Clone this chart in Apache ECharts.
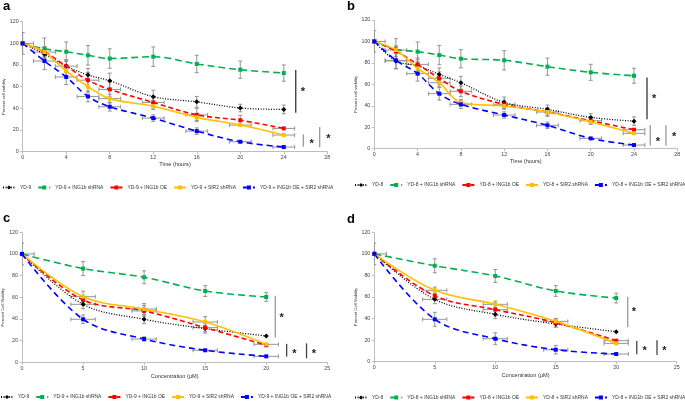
<!DOCTYPE html>
<html><head><meta charset="utf-8">
<script src="https://cdn.jsdelivr.net/npm/echarts@6/dist/echarts.min.js"></script>
<style>html,body{margin:0;padding:0;background:#fff}#c{width:685px;height:401px}</style>
</head><body><div id="c"></div>
<script>
// ---------- categories / tick labels ----------
const timeHours = [0, 2, 4, 6, 8, 12, 16, 20, 24];
const concUM = [0, 5, 10, 15, 20];
const namesYD9 = ['YD-9', 'YD-9 + ING1b shRNA', 'YD-9 + ING1b OE', 'YD-9 + SIR2 shRNA', 'YD-9 + ING1b OE + SIR2 shRNA'];
const namesYD8 = ['YD-8', 'YD-8 + ING1b shRNA', 'YD-8 + ING1b OE', 'YD-8 + SIR2 shRNA', 'YD-8 + ING1b OE + SIR2 shRNA'];
const panelLabels = ['a', 'b', 'c', 'd'];

// ---------- panel a : YD-9 over time ----------
const aCtrl  = [100, 90, 79, 70.8, 65.5, 50.8, 46, 40.3, 39];
const aShING = [100, 95, 92.3, 89, 86, 87.7, 81, 75.7, 72.6];
const aOE    = [100, 92, 79, 66, 57.5, 45.5, 34, 29, 21.5];
const aShSIR = [100, 92, 74.5, 60, 49, 42, 31.7, 24.6, 15.4];
const aCombo = [100, 83.7, 69, 51, 41.5, 31, 19, 9.2, 4.3];
const aYErr = [[10,4,5,6,7,6,5,3.5,4],[0,10,9,9,9,9,8,8,7.5],[0,5,6,7,7,5,6,4.5,0],[0,4,5,5,4,3,3,0,0],[0,8,7,5,4,3,3,0,0]];
const aXErr = [[0,0,0,0,0,0,0,0,0],[0,0,0,0,0,0,0,0,0],[0,0,1,1,1,1,1,0,1],[0,1,0,0,1,0,0,1,1],[1,1,1,1,1,1,1,1,1]];
const aSig = [[25.1, 75.4, 36, 25.75, 57], [25.8, 16, 4.6, 26.55, 9.2], [27.3, 22.8, 4, 28.1, 13.8]];

// ---------- panel b : YD-8 over time ----------
const bCtrl  = [100, 81.8, 77.4, 69.3, 61.5, 43.2, 36.7, 29.2, 25.7];
const bShING = [100, 92.6, 90.5, 87.3, 83.9, 82.4, 76.5, 71.2, 68];
const bOE    = [100, 91, 78.6, 65.6, 53.5, 41.3, 34.2, 26.1, 17.7];
const bShSIR = [100, 92, 75, 61.5, 43, 39.8, 34.2, 24.9, 14.3];
const bCombo = [100, 82.4, 70, 51.3, 41.3, 31.4, 21.8, 9.6, 3.4];
const bYErr = [[10,7,6,6,6,5,4,3.5,4],[0,10,9,9,8.5,9,8,7.5,7],[0,5,6,6,5,4,4,3.5,0],[0,3,4,4,3,3,3,0,0],[0,8,7,6,4,3,3,0,0]];
const bXErr = [[0,1,0,0,0,0,0,0,0],[0,0,0,0,0,0,0,0,0],[0,0,1,1,1,1,1,1,1],[0,1,0,1,0,0,0,0,1],[1,1,1,1,1,1,1,1,1]];
const bSig = [[25.2, 66.5, 27.4, 25.85, 48.5], [25.5, 22, 3, 26.2, 8], [26.95, 21.8, 2.8, 27.7, 12.7]];

// ---------- panel c : YD-9 over concentration ----------
const cCtrl  = [100, 53.5, 39.7, 31.1, 24.3];
const cShING = [100, 86.5, 78.5, 65.8, 60.3];
const cOE    = [100, 57.5, 47.4, 32, 15.7];
const cShSIR = [100, 60.6, 49.2, 37.2, 16.6];
const cCombo = [100, 39.7, 21.5, 11.1, 5.5];
const cYErr = [[10,4,4,3,0],[0,6.5,6,5,4],[0,4,5,5,0],[0,5,5,5,0],[0,4,2,0,0]];
const cXErr = [[0,1,0,0,0],[0,0,0,0,0],[0,0,1,1,0],[0,1,1,1,1],[1,1,1,1,1]];
const cSig = [[20.74, 61.5, 22.8, 21.26, 43], [21.67, 17, 5.2, 22.3, 9.2], [23.3, 17.5, 3.7, 23.9, 9.2]];

// ---------- panel d : YD-8 over concentration ----------
const dCtrl  = [100, 57.8, 43.9, 35, 27.8];
const dShING = [100, 89, 79.5, 65.6, 59];
const dOE    = [100, 61, 48.3, 36.2, 19.5];
const dShSIR = [100, 66.2, 53.2, 37.4, 17];
const dCombo = [100, 39.3, 21.3, 11.1, 7.1];
const dYErr = [[10,4,4,3,0],[0,6.5,6,5,4.5],[0,4,6,4,0],[0,3,3,2,0],[0,6.5,5.5,4,0]];
const dXErr = [[0,1,0,0,0],[0,0,0,0,0],[0,0,1,0,1],[0,1,1,1,1],[1,1,1,1,1]];
const dSig = [[20.95, 60.3, 31.9, 21.47, 48], [21.7, 19.2, 6.8, 22.35, 11.4], [23.37, 20, 6.2, 23.98, 11.4]];

// ---------- styling (not data) ----------
const FONT = "'Liberation Sans', Arial, sans-serif";
const seriesStyles = [
  {color: '#000000', type: [1, 1.6], width: 1.3, symbol: 'diamond', size: 5},
  {color: '#00b050', type: [7, 4], width: 1.6, symbol: 'rect', size: 4},
  {color: '#ff0000', type: [5, 3], width: 1.6, symbol: 'rect', size: 4},
  {color: '#ffc000', type: 'solid', width: 1.6, symbol: 'rect', size: 4},
  {color: '#0000ff', type: [6, 4], width: 1.6, symbol: 'rect', size: 4}
];
const sigShades = [['#333', '#999', '#999'], ['#333', '#999', '#999'], ['#999', '#444', '#444'], ['#999', '#444', '#444']];

const panels = [
  {x: timeHours, names: namesYD9, vals: [aCtrl, aShING, aOE, aShSIR, aCombo], yerr: aYErr, xerr: aXErr, sig: aSig,
   grid: {left: 22.7, top: 21.7, width: 304.6, height: 130}, xmax: 28, xint: 4, xname: 'Time (hours)', yname: 'Percent cell viability',
   legend: {left: 2, top: 185}, label: [3, -2]},
  {x: timeHours, names: namesYD8, vals: [bCtrl, bShING, bOE, bShSIR, bCombo], yerr: bYErr, xerr: bXErr, sig: bSig,
   grid: {left: 374.3, top: 20, width: 303, height: 128.7}, xmax: 28, xint: 4, xname: 'Time (hours)', yname: 'Percent cell viability',
   legend: {left: 354, top: 182.5}, label: [347, -2]},
  {x: concUM, names: namesYD9, vals: [cCtrl, cShING, cOE, cShSIR, cCombo], yerr: cYErr, xerr: cXErr, sig: cSig,
   grid: {left: 22, top: 232.3, width: 305.3, height: 130}, xmax: 25, xint: 5, xname: 'Concentration (\u00b5M)', yname: 'Percent Cell Viability',
   legend: {left: 0, top: 394.5}, label: [3, 210]},
  {x: concUM, names: namesYD8, vals: [dCtrl, dShING, dOE, dShSIR, dCombo], yerr: dYErr, xerr: dXErr, sig: dSig,
   grid: {left: 374.3, top: 232.3, width: 302.4, height: 129.4}, xmax: 25, xint: 5, xname: 'Concentration (\u00b5M)', yname: 'Percent Cell Viability',
   legend: {left: 354, top: 395}, label: [347, 211]}
];

function errorBars(params, api) {
  const x = api.value(0), y = api.value(1), xe = api.value(2), ye = api.value(3);
  const cap = 2;
  const st = {stroke: '#8a8a8a', lineWidth: 0.9};
  const ch = [];
  const seg = (x1, y1, x2, y2) => ch.push({type: 'line', shape: {x1, y1, x2, y2}, style: st});
  if (ye > 0) {
    const p1 = api.coord([x, y + ye]), p2 = api.coord([x, y - ye]);
    seg(p1[0], p1[1], p2[0], p2[1]);
    seg(p1[0] - cap, p1[1], p1[0] + cap, p1[1]);
    seg(p2[0] - cap, p2[1], p2[0] + cap, p2[1]);
  }
  if (xe > 0) {
    const p1 = api.coord([x - xe, y]), p2 = api.coord([x + xe, y]);
    seg(p1[0], p1[1], p2[0], p2[1]);
    seg(p1[0], p1[1] - cap, p1[0], p1[1] + cap);
    seg(p2[0], p2[1] - cap, p2[0], p2[1] + cap);
  }
  return {type: 'group', children: ch};
}

function sigRenderer(pi) {
  return function (params, api) {
    const top = api.coord([api.value(0), api.value(1)]);
    const bot = api.coord([api.value(0), api.value(2)]);
    const star = api.coord([api.value(3), api.value(4)]);
    return {type: 'group', children: [
      {type: 'line', shape: {x1: top[0], y1: top[1], x2: bot[0], y2: bot[1]},
       style: {stroke: sigShades[pi][params.dataIndex], lineWidth: 1.3}},
      {type: 'text', x: star[0], y: star[1] + 2,
       style: {text: '*', fill: '#222', font: 'bold 11px ' + FONT, align: 'center', verticalAlign: 'middle',
               textAlign: 'center', textVerticalAlign: 'middle'}}
    ]};
  };
}

const option = {animation: false, backgroundColor: '#fff', grid: [], xAxis: [], yAxis: [], series: [], legend: [], graphic: []};
const axisLineStyle = {color: '#bfbfbf', width: 1};
panels.forEach((p, pi) => {
  option.grid.push(Object.assign({containLabel: false}, p.grid));
  option.xAxis.push({
    gridIndex: pi, type: 'value', min: 0, max: p.xmax, interval: p.xint,
    name: p.xname, nameLocation: 'middle', nameGap: pi < 2 ? 10 : 11,
    nameTextStyle: {fontSize: 5.6, color: '#333', fontFamily: FONT},
    axisLine: {show: true, onZero: false, lineStyle: axisLineStyle},
    axisTick: {show: true, length: 2.5, lineStyle: axisLineStyle},
    axisLabel: {fontSize: 5.3, color: '#444', margin: 3.5, fontFamily: FONT},
    splitLine: {show: false}
  });
  option.yAxis.push({
    gridIndex: pi, type: 'value', min: 0, max: 120, interval: 20,
    name: p.yname, nameLocation: 'middle', nameGap: 15, nameRotate: 90,
    nameTextStyle: {fontSize: 4.2, color: '#333', fontFamily: FONT, padding: [0, 20, 0, 0]},
    axisLine: {show: true, lineStyle: axisLineStyle},
    axisTick: {show: true, length: 2.5, lineStyle: axisLineStyle},
    axisLabel: {fontSize: 5.3, color: '#444', margin: 4, fontFamily: FONT},
    splitLine: {show: false}
  });
  // error bars (drawn below lines, clipped to the plot area)
  p.vals.forEach((v, si) => {
    option.series.push({
      type: 'custom', xAxisIndex: pi, yAxisIndex: pi, z: 1, clip: true, silent: true,
      renderItem: errorBars,
      encode: {x: 0, y: 1},
      data: p.x.map((xv, k) => [xv, v[k], p.xerr[si][k], p.yerr[si][k]])
    });
  });
  p.vals.forEach((v, si) => {
    const s = seriesStyles[si];
    option.series.push({
      type: 'line', name: p.names[si], xAxisIndex: pi, yAxisIndex: pi, z: 3,
      smooth: 0.35, symbol: s.symbol, symbolSize: s.size, showSymbol: true,
      lineStyle: {color: s.color, type: s.type, width: s.width},
      itemStyle: {color: s.color},
      data: p.x.map((xv, k) => [xv, v[k]])
    });
  });
  option.series.push({
    type: 'custom', xAxisIndex: pi, yAxisIndex: pi, z: 4, clip: false, silent: true,
    renderItem: sigRenderer(pi), encode: {x: 0, y: 1},
    data: p.sig
  });
  option.legend.push({
    data: p.names, left: p.legend.left, top: p.legend.top, orient: 'horizontal', width: 420,
    itemWidth: 12, itemHeight: 5, itemGap: 6, padding: 0, selectedMode: false,
    textStyle: {fontSize: 4.95, color: '#333', fontFamily: FONT}
  });
  option.graphic.push({
    type: 'text', left: p.label[0], top: p.label[1] + 2,
    style: {text: panelLabels[pi], font: 'bold 13px ' + FONT, fill: '#000'}
  });
});

const chart = echarts.init(document.getElementById('c'), null, {renderer: 'canvas'});
chart.setOption(option);
</script>
</body></html>
